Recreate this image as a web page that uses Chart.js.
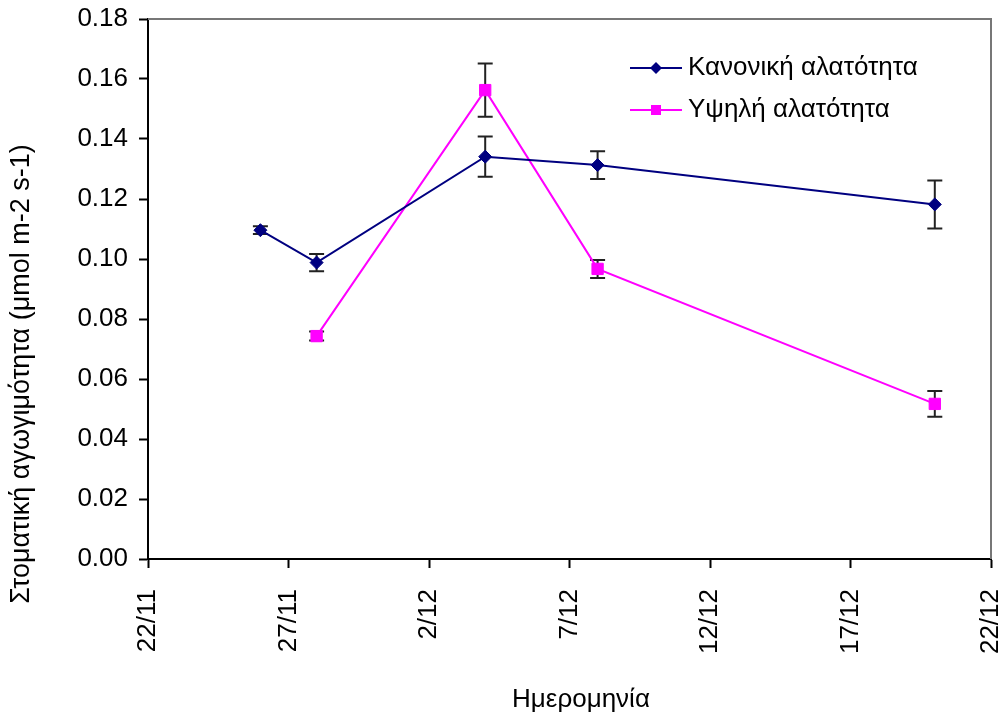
<!DOCTYPE html>
<html>
<head>
<meta charset="utf-8">
<script src="https://cdn.jsdelivr.net/npm/chart.js@4/dist/chart.umd.min.js"></script>
<style>
  html, body { margin: 0; padding: 0; background: #ffffff; }
  #wrap { width: 1003px; height: 721px; }
</style>
</head>
<body>
<div id="wrap"><canvas id="c" width="1003" height="721"></canvas></div>
<script>
// Measurement dates (day/month) and stomatal conductance means with their errors
const normalDates = ['26/11', '28/11', '4/12', '8/12', '20/12'];
const normalValues = [0.1096, 0.0988, 0.1341, 0.1313, 0.1182];
const normalErrors = [0.0013, 0.0029, 0.0067, 0.0046, 0.0080];

const highDates = ['28/11', '4/12', '8/12', '20/12'];
const highValues = [0.0743, 0.1563, 0.0967, 0.0517];
const highErrors = [0.0015, 0.0089, 0.0030, 0.0043];

const xTickLabels = ['22/11', '27/11', '2/12', '7/12', '12/12', '17/12', '22/12'];

const seriesNames = ['Κανονική αλατότητα', 'Υψηλή αλατότητα'];
const yTitle = 'Στοματική αγωγιμότητα (μmol m-2 s-1)';
const xTitle = 'Ημερομηνία';

// Days counted from 22 November (November has 30 days)
function dayOf(label) {
  const [d, m] = label.split('/').map(Number);
  return m === 11 ? d - 22 : d + 8;
}
function toPoints(dates, values) {
  return dates.map((dt, i) => ({ x: dayOf(dt), y: values[i] }));
}

const FONT = '"Liberation Sans", Arial, sans-serif';
const FONT_SIZE = 26;
const NAVY = '#000080';
const MAGENTA = '#FF00FF';

// Vertical error bars with caps, drawn under the markers
const errorBars = {
  id: 'errorBars',
  beforeDatasetsDraw(chart) {
    const { ctx, scales: { x, y } } = chart;
    const sets = [
      { dates: normalDates, values: normalValues, errors: normalErrors },
      { dates: highDates, values: highValues, errors: highErrors }
    ];
    ctx.save();
    ctx.strokeStyle = '#222222';
    ctx.lineWidth = 2;
    sets.forEach(s => {
      s.dates.forEach((dt, i) => {
        const px = x.getPixelForValue(dayOf(dt));
        const top = y.getPixelForValue(s.values[i] + s.errors[i]);
        const bot = y.getPixelForValue(s.values[i] - s.errors[i]);
        const cap = 7.5;
        ctx.beginPath();
        ctx.moveTo(px, top); ctx.lineTo(px, bot);
        ctx.moveTo(px - cap, top); ctx.lineTo(px + cap, top);
        ctx.moveTo(px - cap, bot); ctx.lineTo(px + cap, bot);
        ctx.stroke();
      });
    });
    ctx.restore();
  }
};

// Plot frame, axis titles and in-plot legend
const decorations = {
  id: 'decorations',
  beforeDatasetsDraw(chart) {
    const { ctx, chartArea: a } = chart;
    ctx.save();
    ctx.strokeStyle = '#777777';
    ctx.lineWidth = 2;
    ctx.beginPath();
    ctx.moveTo(a.left, a.top);
    ctx.lineTo(a.right, a.top);
    ctx.lineTo(a.right, a.bottom);
    ctx.stroke();
    ctx.restore();
  },
  afterDraw(chart) {
    const { ctx } = chart;
    ctx.save();
    ctx.fillStyle = '#000000';
    ctx.textAlign = 'center';
    ctx.textBaseline = 'middle';
    // y-axis title
    ctx.font = '27px ' + FONT;
    ctx.save();
    ctx.translate(22, 374);
    ctx.rotate(-Math.PI / 2);
    ctx.fillText(yTitle, 0, 0);
    ctx.restore();
    // x-axis title
    ctx.font = FONT_SIZE + 'px ' + FONT;
    ctx.fillText(xTitle, 581, 700);

    // legend
    const items = [
      { name: seriesNames[0], color: NAVY, shape: 'diamond', y: 68 },
      { name: seriesNames[1], color: MAGENTA, shape: 'square', y: 110 }
    ];
    items.forEach(it => {
      ctx.strokeStyle = it.color;
      ctx.lineWidth = 2;
      ctx.beginPath();
      ctx.moveTo(630, it.y);
      ctx.lineTo(682, it.y);
      ctx.stroke();
      ctx.fillStyle = it.color;
      ctx.beginPath();
      if (it.shape === 'diamond') {
        ctx.moveTo(656, it.y - 6); ctx.lineTo(662, it.y);
        ctx.lineTo(656, it.y + 6); ctx.lineTo(650, it.y);
        ctx.closePath();
      } else {
        ctx.rect(651, it.y - 5, 10, 10);
      }
      ctx.fill();
      ctx.fillStyle = '#000000';
      ctx.textAlign = 'left';
      ctx.fillText(it.name, 688, it.y);
    });
    ctx.restore();
  }
};

new Chart(document.getElementById('c'), {
  type: 'line',
  data: {
    datasets: [
      {
        label: seriesNames[0],
        data: toPoints(normalDates, normalValues),
        borderColor: NAVY,
        backgroundColor: NAVY,
        borderWidth: 2,
        pointStyle: 'rectRot',
        pointRadius: 6.5,
        pointBorderWidth: 1,
        tension: 0
      },
      {
        label: seriesNames[1],
        data: toPoints(highDates, highValues),
        borderColor: MAGENTA,
        backgroundColor: MAGENTA,
        borderWidth: 2,
        pointStyle: 'rect',
        pointRadius: 8,
        pointBorderWidth: 1,
        tension: 0
      }
    ]
  },
  options: {
    responsive: false,
    animation: false,
    devicePixelRatio: 1,
    layout: { padding: { top: 19, right: 12, left: 0, bottom: 0 } },
    plugins: {
      legend: { display: false },
      tooltip: { enabled: false }
    },
    scales: {
      x: {
        type: 'linear',
        min: 0,
        max: 30,
        afterFit(scale) {
          scale.height = 162;
          scale.paddingLeft = 0;
          scale.paddingRight = 0;
        },
        ticks: {
          stepSize: 5,
          autoSkip: false,
          minRotation: 90,
          maxRotation: 90,
          padding: 21,
          color: '#000000',
          font: { family: FONT, size: FONT_SIZE },
          callback(value, index) { return xTickLabels[index]; }
        },
        grid: {
          drawOnChartArea: false,
          drawTicks: true,
          tickLength: 9,
          tickColor: '#000000',
          tickWidth: 2
        },
        border: { display: true, color: '#000000', width: 2 }
      },
      y: {
        min: 0,
        max: 0.18,
        afterFit(scale) {
          scale.width = 148;
          scale.paddingTop = 0;
          scale.paddingBottom = 0;
        },
        ticks: {
          stepSize: 0.02,
          padding: 11,
          color: '#000000',
          font: { family: FONT, size: FONT_SIZE },
          callback(value) { return Number(value).toFixed(2); }
        },
        grid: {
          drawOnChartArea: false,
          drawTicks: true,
          tickLength: 9,
          tickColor: '#000000',
          tickWidth: 2
        },
        border: { display: true, color: '#000000', width: 2 }
      }
    }
  },
  plugins: [errorBars, decorations]
});
</script>
</body>
</html>
